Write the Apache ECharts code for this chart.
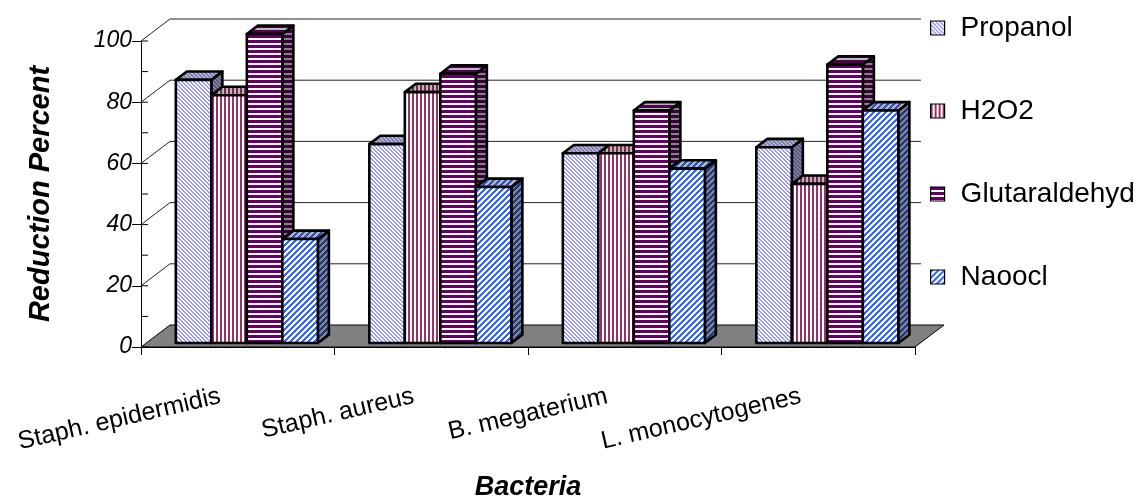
<!DOCTYPE html>
<html>
<head>
<meta charset="utf-8">
<script src="https://cdn.jsdelivr.net/npm/echarts@6/dist/echarts.min.js"></script>
<style>
  html, body { margin: 0; padding: 0; background: #fff; }
  #chart { width: 1141px; height: 499px; }
</style>
</head>
<body>
<div id="chart"></div>
<script>
// ---------------- data ----------------
var categories = ['Staph. epidermidis', 'Staph. aureus', 'B. megaterium', 'L. monocytogenes'];
var seriesNames = ['Propanol', 'H2O2', 'Glutaraldehyd', 'Naoocl'];
var propanol = [86, 65, 62, 64];
var h2o2 = [81, 82, 62, 52];
var glutaraldehyd = [101, 88, 76, 91];
var naoocl = [34, 51, 57, 76];
var yTicks = [0, 20, 40, 60, 80, 100];
var xTitle = 'Bacteria';
var yTitle = 'Reduction Percent';

// ---------------- style ----------------
var FONT = '"Liberation Sans", Arial, sans-serif';
var DX = 29, DY = -22;          // depth vector of the whole floor
var PLANE = 0.18;               // bars front plane (fraction of depth)
var DEPTH = 0.38;               // bar depth (fraction of depth)
var GROUP_START = -0.347;       // in band units, relative to band centre
var BAR_W = 0.1835;             // in band units

function hexToRgb(h) { h = h.replace('#', ''); return [parseInt(h.substr(0,2),16), parseInt(h.substr(2,2),16), parseInt(h.substr(4,2),16)]; }
function shade(h, f) { var c = hexToRgb(h); return 'rgb(' + Math.round(c[0]*f) + ',' + Math.round(c[1]*f) + ',' + Math.round(c[2]*f) + ')'; }

function makePattern(kind, fg, bg, period, on) {
  var c = document.createElement('canvas');
  c.width = period; c.height = period;
  var ctx = c.getContext('2d');
  ctx.fillStyle = bg; ctx.fillRect(0, 0, period, period);
  ctx.fillStyle = fg;
  for (var y = 0; y < period; y++) {
    for (var x = 0; x < period; x++) {
      var t;
      if (kind === 'v') t = x;
      else if (kind === 'h') t = y;
      else if (kind === 'back') t = (x - y + period * 4) % period;
      else t = (x + y) % period;
      if (t < on) ctx.fillRect(x, y, 1, 1);
    }
  }
  return { image: c, repeat: 'repeat' };
}

var styles = [
  { kind: 'back', fg: '#9999FF', period: 4, on: 2 },
  { kind: 'v', fg: '#993366', period: 4, on: 2 },
  { kind: 'h', fg: '#660066', period: 5, on: 3 },
  { kind: 'fwd', fg: '#3366FF', period: 6, on: 3 }
];
var faces = styles.map(function (s) {
  return {
    front: makePattern(s.kind, s.fg, '#ffffff', s.period, s.on),
    top: makePattern(s.kind, shade(s.fg, 0.8), shade('#ffffff', 0.72), s.period, s.on),
    side: makePattern(s.kind, shade(s.fg, 0.55), shade('#ffffff', 0.52), s.period, s.on)
  };
});

function renderFrame(params, api) {
  var n = categories.length;
  var bw = api.size([1, 0])[0];
  var L = api.coord([0, 0])[0] - bw / 2;
  var R = api.coord([n - 1, 0])[0] + bw / 2;
  var y0 = api.coord([0, 0])[1];
  var children = [];
  var line = { stroke: '#222', lineWidth: 1 };
  yTicks.forEach(function (v) {
    var y = api.coord([0, v])[1];
    if (v > 0) {
      children.push({ type: 'line', shape: { x1: L + DX, y1: y + DY, x2: R + DX, y2: y + DY }, style: line });
      children.push({ type: 'line', shape: { x1: L, y1: y, x2: L + DX, y2: y + DY }, style: line });
    }
  });
  for (var v = yTicks[0]; v <= yTicks[yTicks.length - 1]; v += 10) {
    var yy = api.coord([0, v])[1];
    children.push({ type: 'line', shape: { x1: L, y1: yy, x2: L + 7, y2: yy }, style: { stroke: '#000', lineWidth: 1 } });
  }
  children.unshift({ type: 'polygon', shape: { points: [[L, y0], [R, y0], [R + DX, y0 + DY], [L + DX, y0 + DY]] },
    style: { fill: '#808080', stroke: '#000', lineWidth: 1 } });
  return { type: 'group', children: children };
}

function makeBarRenderer(s) {
  return function (params, api) {
    var c = api.value(0), v = api.value(1);
    var bw = api.size([1, 0])[0];
    var base = api.coord([c, 0]);
    var top = api.coord([c, v]);
    var ox = PLANE * DX, oy = PLANE * DY;
    var x0 = base[0] + ox + bw * (GROUP_START + s * BAR_W);
    var x1 = x0 + bw * BAR_W;
    var yb = base[1] + oy, yt = top[1] + oy;
    var dx = DEPTH * DX, dy = DEPTH * DY;
    var st = { stroke: '#000', lineWidth: 2.6, lineJoin: 'round' };
    var f = faces[s];
    return { type: 'group', children: [
      { type: 'polygon', shape: { points: [[x1, yb], [x1 + dx, yb + dy], [x1 + dx, yt + dy], [x1, yt]] },
        style: Object.assign({ fill: f.side }, st) },
      { type: 'polygon', shape: { points: [[x0, yt], [x1, yt], [x1 + dx, yt + dy], [x0 + dx, yt + dy]] },
        style: Object.assign({ fill: f.top }, st) },
      { type: 'rect', shape: { x: x0, y: yt, width: x1 - x0, height: yb - yt },
        style: Object.assign({ fill: f.front }, st) }
    ] };
  };
}

var allValues = [propanol, h2o2, glutaraldehyd, naoocl];
var series = [{
  type: 'custom', name: 'frame', silent: true, z: 1,
  renderItem: renderFrame, data: [[0, 0]], encode: { x: 0, y: 1 }
}];
allValues.forEach(function (vals, s) {
  series.push({
    type: 'custom', name: seriesNames[s], silent: true, z: 2,
    renderItem: makeBarRenderer(s),
    itemStyle: { color: faces[s].front, borderColor: '#000', borderWidth: 1.2 },
    data: vals.map(function (v, i) { return [i, v]; }),
    encode: { x: 0, y: 1 }
  });
});

var chart = echarts.init(document.getElementById('chart'), null, { renderer: 'canvas' });
chart.setOption({
  animation: false,
  backgroundColor: '#fff',
  grid: { left: 141, right: 226, top: 41, bottom: 152, containLabel: false, outerBoundsMode: 'none' },
  legend: {
    orient: 'vertical', left: 921, top: 0, padding: [13, 10, 12, 9], backgroundColor: '#fff',
    itemWidth: 14, itemHeight: 14, itemGap: 53, icon: 'rect',
    textStyle: { fontSize: 28, fontFamily: FONT, color: '#000', lineHeight: 30, padding: [0, 0, 0, 11] },
    itemStyle: { borderColor: '#000', borderWidth: 1.2 },
    data: seriesNames, selectedMode: false
  },
  xAxis: {
    type: 'category', data: categories,
    name: xTitle, nameLocation: 'middle', nameGap: 127,
    nameTextStyle: { fontSize: 27, fontWeight: 'bold', fontStyle: 'italic', fontFamily: FONT, color: '#000' },
    axisLine: { lineStyle: { color: '#000', width: 1 } },
    axisTick: { show: true, length: 8, lineStyle: { color: '#000' } },
    axisLabel: { interval: 0, rotate: 13, margin: 45, padding: [0, 18, 0, 0], fontSize: 25, fontFamily: FONT, color: '#000' },
    splitLine: { show: false }
  },
  yAxis: {
    type: 'value', min: 0, max: 100, interval: 20,
    name: yTitle, nameLocation: 'middle', nameGap: 86, nameRotate: 90,
    nameTextStyle: { fontSize: 29, fontWeight: 'bold', fontStyle: 'italic', fontFamily: FONT, color: '#000' },
    axisLine: { show: true, lineStyle: { color: '#000', width: 1 } },
    axisTick: { show: true, length: 9, lineStyle: { color: '#000' } },
    axisLabel: { margin: 9, fontSize: 23, fontStyle: 'italic', fontFamily: FONT, color: '#000' },
    splitLine: { show: false }
  },
  series: series
});
</script>
</body>
</html>
